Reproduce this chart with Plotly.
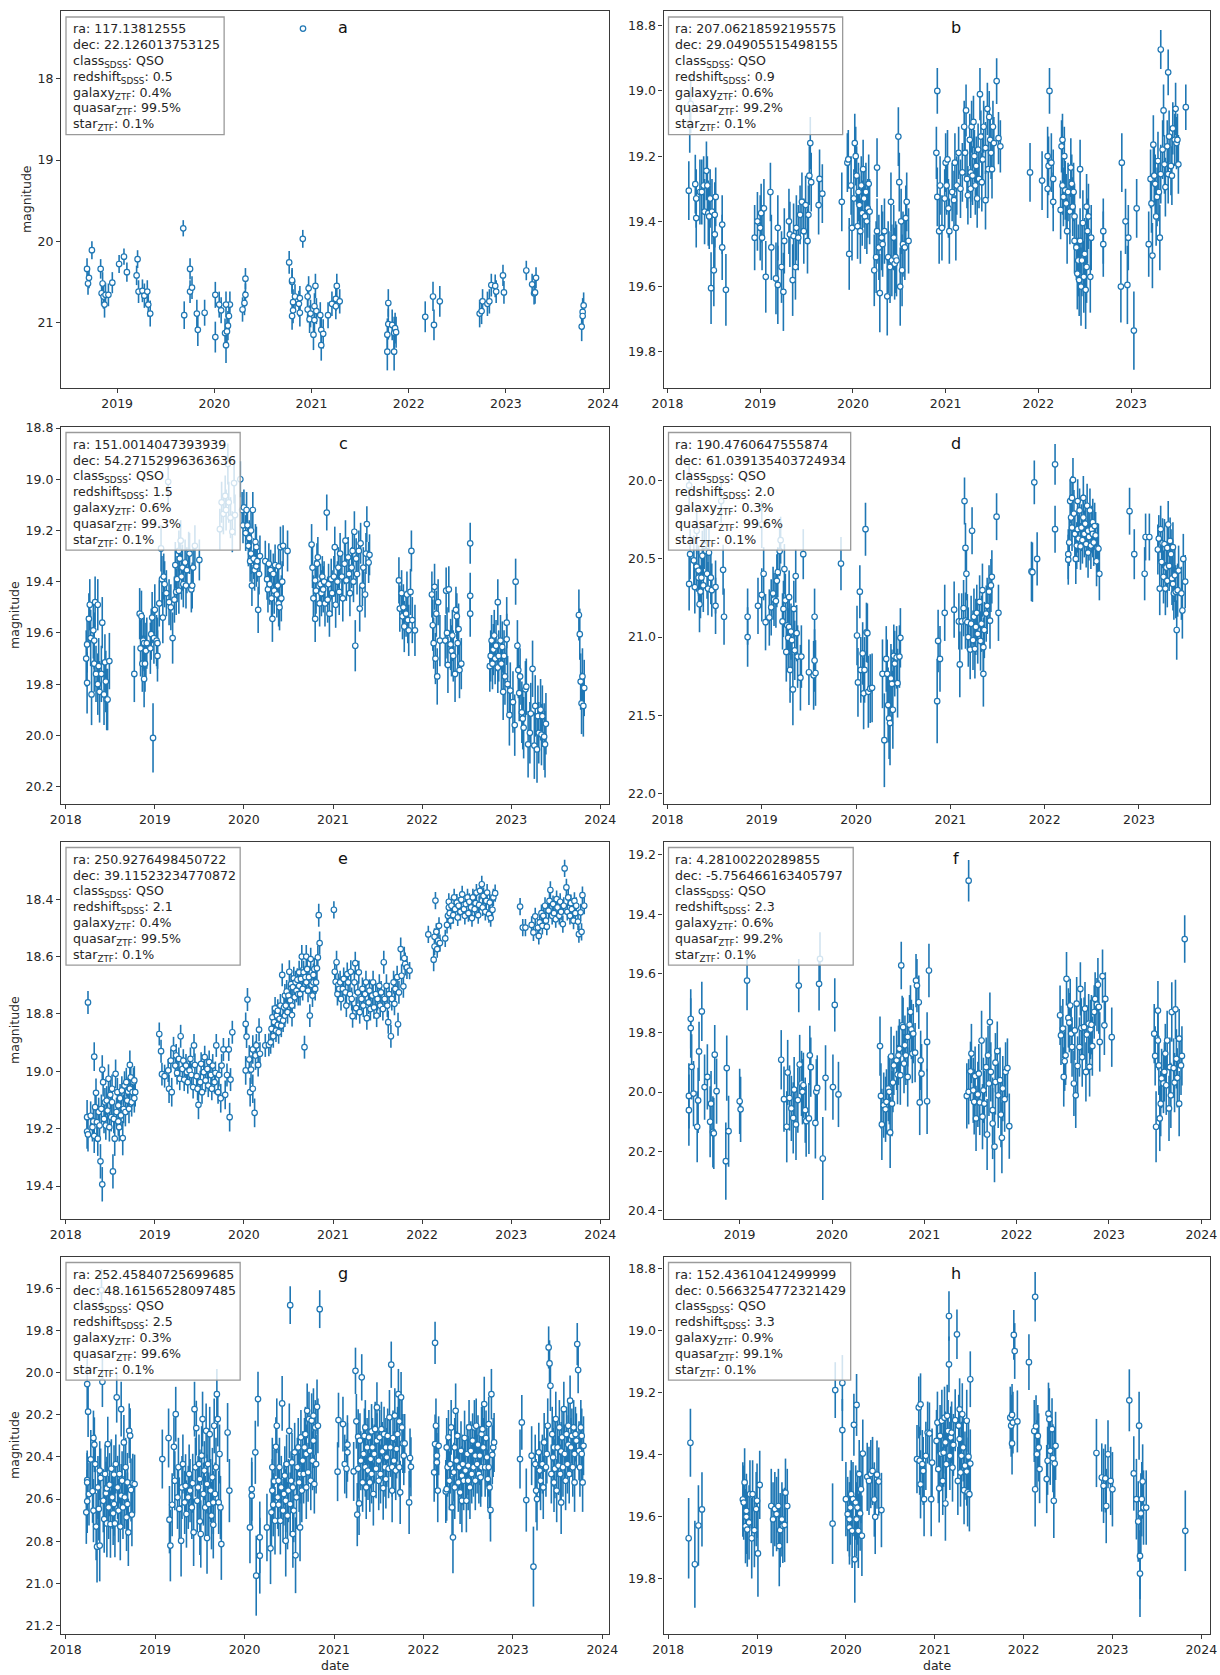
import plotly.graph_objects as go

# ZTF light curves of eight SDSS quasars: (decimal year, magnitude, 1-sigma error)
obs_a = [
    (2018.69,20.34,.13),(2018.70,20.52,.14),(2018.71,20.45,.13),(2018.74,20.11,.11),
    (2018.83,20.34,.12),(2018.84,20.64,.15),(2018.85,20.52,.14),(2018.86,20.68,.15),(2018.87,20.78,.16),(2018.88,20.66,.15),(2018.91,20.66,.14),(2018.95,20.51,.13),
    (2019.02,20.28,.11),(2019.07,20.19,.10),(2019.10,20.38,.12),(2019.20,20.42,.12),(2019.21,20.22,.11),(2019.22,20.62,.14),(2019.26,20.61,.14),(2019.28,20.67,.15),(2019.31,20.62,.14),(2019.32,20.78,.15),(2019.34,20.89,.16),
    (2019.68,19.84,.10),(2019.69,20.91,.17),(2019.75,20.34,.13),(2019.75,20.62,.14),(2019.77,20.57,.14),(2019.82,20.89,.17),(2019.83,21.09,.20),(2019.90,20.88,.16),
    (2020.01,21.18,.19),(2020.01,20.66,.16),(2020.05,20.78,.16),(2020.07,20.85,.16),(2020.11,21.13,.18),(2020.12,21.28,.22),(2020.13,21.11,.18),(2020.14,21.04,.18),(2020.15,20.92,.17),(2020.16,20.78,.16),(2020.12,20.78,.16),
    (2020.29,20.84,.15),(2020.31,20.76,.15),(2020.32,20.66,.14),(2020.32,20.46,.13),
    (2020.77,20.26,.14),(2020.80,20.50,.15),(2020.80,20.92,.17),(2020.80,20.48,.15),(2020.81,20.75,.16),(2020.81,20.85,.16),(2020.83,20.68,.15),(2020.87,20.77,.16),(2020.88,20.88,.17),(2020.88,20.70,.15),(2020.91,19.97,.11),(2020.96,20.68,.15),(2020.96,20.84,.16),(2020.97,20.58,.15),(2020.98,20.96,.17),(2020.99,20.89,.17),(2021.02,21.15,.19),(2021.03,20.80,.16),(2021.03,20.97,.17),(2021.04,20.55,.15),(2021.05,20.86,.16),(2021.09,20.91,.16),(2021.10,21.09,.18),(2021.10,21.28,.19),(2021.12,21.14,.18),(2021.17,20.91,.16),(2021.21,20.77,.15),(2021.25,20.80,.16),(2021.25,20.71,.15),(2021.26,20.55,.15),(2021.29,20.74,.15),
    (2021.78,21.15,.20),(2021.78,21.36,.23),(2021.79,20.76,.17),(2021.79,21.02,.19),(2021.83,21.03,.19),(2021.85,21.13,.20),(2021.85,21.36,.23),(2021.86,21.07,.19),(2021.87,21.12,.19),
    (2022.17,20.93,.19),(2022.25,20.68,.18),(2022.26,21.03,.19),(2022.32,20.74,.19),
    (2022.73,20.89,.17),(2022.75,20.86,.16),(2022.76,20.74,.15),(2022.81,20.77,.15),(2022.83,20.74,.15),(2022.85,20.54,.14),(2022.89,20.55,.14),(2022.90,20.62,.14),(2022.97,20.42,.13),(2022.98,20.63,.14),
    (2023.21,20.36,.12),(2023.27,20.53,.13),(2023.29,20.64,.14),(2023.30,20.63,.14),(2023.31,20.45,.13),
    (2023.78,21.05,.18),(2023.79,20.87,.17),(2023.79,20.92,.17),(2023.80,20.79,.16),
]

obs_b = [
    (2018.23,19.306,.09),(2018.24,19.10,.09),(2018.25,19.04,.09),(2018.30,19.286,.09),(2018.31,19.33,.09),(2018.31,19.39,.09),(2018.35,19.31,.10),(2018.37,19.31,.10),(2018.39,19.29,.09),(2018.40,19.37,.10),(2018.42,19.245,.09),(2018.43,19.29,.09),(2018.44,19.375,.10),(2018.45,19.385,.10),(2018.46,19.33,.09),(2018.47,19.605,.11),(2018.48,19.37,.10),(2018.50,19.55,.11),(2018.51,19.38,.10),(2018.51,19.44,.10),(2018.52,19.325,.09),(2018.59,19.41,.09),(2018.59,19.48,.10),(2018.63,19.61,.11),
    (2018.94,19.45,.10),(2018.97,19.40,.09),(2019.00,19.42,.10),(2019.01,19.375,.09),(2019.02,19.45,.10),(2019.04,19.36,.09),(2019.06,19.57,.11),(2019.11,19.31,.09),(2019.12,19.48,.10),(2019.17,19.575,.11),(2019.19,19.42,.10),(2019.19,19.595,.12),(2019.23,19.54,.11),(2019.25,19.616,.12),(2019.26,19.46,.10),(2019.31,19.40,.10),(2019.32,19.44,.10),(2019.35,19.58,.11),(2019.36,19.445,.10),(2019.38,19.54,.10),(2019.39,19.42,.10),(2019.41,19.45,.10),(2019.43,19.38,.09),(2019.45,19.34,.09),(2019.47,19.43,.10),(2019.49,19.35,.09),(2019.51,19.46,.10),(2019.52,19.38,.09),(2019.53,19.26,.09),(2019.54,19.16,.08),(2019.55,19.28,.09),(2019.63,19.35,.09),(2019.64,19.27,.09),(2019.67,19.315,.09),
    (2019.88,19.34,.09),(2019.94,19.22,.09),(2019.96,19.50,.11),(2019.95,19.21,.09),(2019.98,19.29,.09),(2019.99,19.42,.10),(2020.01,19.33,.09),(2020.02,19.16,.09),(2020.03,19.20,.09),(2020.04,19.26,.09),(2020.05,19.415,.10),(2020.06,19.31,.09),(2020.07,19.35,.09),(2020.08,19.43,.10),(2020.09,19.29,.09),(2020.10,19.375,.10),(2020.11,19.24,.09),(2020.12,19.33,.09),(2020.13,19.385,.10),(2020.14,19.31,.09),(2020.15,19.40,.10),(2020.16,19.36,.09),(2020.17,19.285,.09),(2020.18,19.37,.10),
    (2020.23,19.55,.11),(2020.25,19.51,.11),(2020.26,19.235,.09),(2020.26,19.43,.10),(2020.28,19.48,.10),(2020.29,19.62,.12),(2020.31,19.45,.10),(2020.32,19.47,.10),(2020.34,19.43,.10),(2020.37,19.63,.12),(2020.38,19.51,.11),(2020.40,19.54,.11),(2020.41,19.34,.09),(2020.42,19.52,.11),(2020.44,19.45,.10),(2020.45,19.53,.11),(2020.46,19.51,.11),(2020.47,19.52,.11),(2020.49,19.14,.09),(2020.50,19.28,.09),(2020.51,19.60,.12),(2020.52,19.40,.10),(2020.53,19.55,.11),(2020.54,19.47,.10),(2020.56,19.48,.10),(2020.57,19.39,.10),(2020.58,19.34,.09),(2020.60,19.46,.10),
    (2020.90,19.19,.08),(2020.91,19.00,.07),(2020.91,19.325,.09),(2020.93,19.43,.10),(2020.94,19.29,.09),(2020.96,19.42,.10),(2020.99,19.33,.09),(2021.00,19.22,.09),(2021.01,19.29,.09),(2021.02,19.21,.09),(2021.03,19.36,.09),(2021.04,19.43,.10),(2021.07,19.31,.09),(2021.09,19.335,.09),(2021.10,19.22,.09),(2021.11,19.42,.10),(2021.12,19.29,.09),(2021.14,19.19,.08),(2021.16,19.30,.09),(2021.18,19.25,.09),(2021.20,19.11,.08),(2021.21,19.19,.08),(2021.22,19.06,.08),(2021.23,19.27,.09),(2021.24,19.32,.09),(2021.26,19.15,.08),(2021.27,19.25,.09),(2021.27,19.30,.09),(2021.28,19.11,.08),(2021.29,19.26,.09),(2021.30,19.095,.08),(2021.31,19.20,.08),(2021.32,19.29,.09),(2021.33,19.23,.09),(2021.34,19.33,.09),(2021.35,19.18,.08),(2021.36,19.27,.09),(2021.37,19.01,.08),(2021.38,19.14,.08),(2021.39,19.28,.09),(2021.40,19.21,.08),(2021.41,19.11,.08),(2021.43,19.175,.08),(2021.43,19.335,.09),(2021.45,19.055,.08),(2021.46,19.24,.09),(2021.47,19.08,.08),(2021.48,19.15,.08),(2021.49,19.19,.08),(2021.50,19.24,.09),(2021.51,19.11,.08),(2021.52,19.16,.08),(2021.55,18.97,.07),(2021.57,19.145,.08),(2021.59,19.17,.08),
    (2021.91,19.25,.09),(2022.04,19.275,.09),(2022.10,19.20,.09),(2022.12,19.00,.07),(2022.10,19.30,.09),(2022.11,19.23,.09),(2022.14,19.22,.09),(2022.16,19.27,.09),(2022.16,19.34,.09),(2022.24,19.365,.09),(2022.25,19.17,.08),(2022.26,19.29,.09),(2022.26,19.15,.08),(2022.27,19.325,.09),(2022.28,19.20,.09),(2022.29,19.305,.09),(2022.30,19.345,.09),(2022.31,19.43,.10),(2022.32,19.31,.09),(2022.34,19.37,.10),(2022.35,19.235,.09),(2022.36,19.285,.09),(2022.37,19.355,.09),(2022.38,19.31,.09),(2022.39,19.46,.10),(2022.39,19.385,.10),(2022.41,19.48,.10),(2022.42,19.56,.11),(2022.43,19.52,.11),(2022.44,19.58,.11),(2022.45,19.24,.09),(2022.45,19.46,.10),(2022.46,19.60,.12),(2022.47,19.52,.11),(2022.48,19.405,.10),(2022.49,19.57,.11),(2022.50,19.50,.11),(2022.51,19.61,.12),(2022.52,19.54,.11),(2022.52,19.355,.10),(2022.53,19.43,.10),(2022.54,19.385,.10),(2022.56,19.57,.11),(2022.57,19.45,.10),
    (2022.70,19.43,.10),(2022.70,19.47,.10),
    (2022.89,19.60,.11),(2022.90,19.22,.09),(2022.94,19.40,.10),(2022.96,19.595,.12),(2022.97,19.45,.10),(2023.03,19.735,.12),(2023.06,19.36,.09),
    (2023.19,19.47,.10),(2023.21,19.27,.09),(2023.22,19.345,.09),(2023.23,19.505,.10),(2023.24,19.165,.09),(2023.25,19.26,.09),(2023.26,19.285,.09),(2023.27,19.385,.09),(2023.28,19.325,.09),(2023.29,19.215,.09),(2023.30,19.31,.09),(2023.31,19.45,.10),(2023.32,19.255,.09),(2023.32,18.873,.06),(2023.34,19.18,.09),(2023.35,19.06,.08),(2023.36,19.225,.09),(2023.37,19.295,.09),(2023.39,19.17,.08),(2023.40,18.943,.07),(2023.40,19.255,.09),(2023.41,19.14,.08),(2023.43,19.23,.09),(2023.44,19.26,.09),(2023.45,19.115,.08),(2023.47,19.15,.08),(2023.48,19.055,.08),(2023.49,19.16,.08),(2023.50,19.15,.08),(2023.51,19.225,.09),(2023.59,19.05,.07),
]

obs_c = [
    (2018.23,19.70,.11),(2018.24,19.795,.12),(2018.24,19.645,.11),(2018.26,19.545,.10),(2018.27,19.49,.10),(2018.28,19.62,.11),(2018.29,19.84,.12),(2018.31,19.59,.11),(2018.32,19.72,.11),(2018.32,19.63,.11),(2018.33,19.48,.10),(2018.34,19.76,.11),(2018.36,19.80,.12),(2018.36,19.49,.10),(2018.37,19.73,.11),(2018.38,19.83,.12),(2018.40,19.76,.11),(2018.41,19.56,.10),(2018.43,19.84,.12),(2018.44,19.715,.11),(2018.45,19.79,.12),(2018.46,19.86,.12),(2018.47,19.86,.12),(2018.49,19.71,.11),
    (2018.77,19.76,.11),(2018.83,19.525,.10),(2018.84,19.66,.11),(2018.85,19.535,.10),(2018.86,19.72,.11),(2018.87,19.63,.11),(2018.88,19.78,.11),(2018.88,19.64,.11),(2018.89,19.72,.11),(2018.90,19.67,.11),(2018.91,19.64,.10),(2018.95,19.66,.10),(2018.96,19.605,.10),(2018.97,19.54,.10),(2018.98,20.01,.135),(2018.99,19.62,.10),(2019.00,19.51,.10),(2019.02,19.63,.10),(2019.03,19.69,.10),(2019.03,19.64,.10),(2019.05,19.485,.09),(2019.07,19.27,.09),(2019.08,19.39,.09),(2019.09,19.54,.10),(2019.10,19.38,.09),(2019.11,19.41,.09),(2019.13,19.445,.09),(2019.15,19.01,.09),(2019.16,19.48,.09),(2019.18,19.50,.09),(2019.20,19.62,.10),(2019.22,19.47,.09),(2019.23,19.335,.09),(2019.24,19.44,.09),(2019.25,19.39,.09),(2019.27,19.28,.08),(2019.27,19.435,.09),(2019.28,19.31,.08),(2019.29,19.24,.08),(2019.30,19.38,.09),(2019.31,19.345,.09),(2019.32,19.41,.09),(2019.34,19.325,.09),(2019.35,19.415,.09),(2019.36,19.355,.09),(2019.38,19.285,.08),(2019.39,19.29,.08),(2019.41,19.43,.09),(2019.42,19.415,.09),(2019.43,19.345,.09),(2019.45,19.26,.08),(2019.50,19.315,.08),
    (2019.73,19.195,.08),(2019.75,19.09,.08),(2019.77,19.135,.08),(2019.79,19.065,.08),(2019.80,19.12,.08),(2019.82,18.94,.08),(2019.83,19.09,.08),(2019.85,19.15,.08),(2019.87,19.205,.08),(2019.89,19.015,.08),(2019.90,19.14,.08),(2019.96,19.00,.07),(2019.98,19.12,.07),(2019.99,19.18,.07),(2020.00,19.11,.07),(2020.02,19.21,.07),(2020.03,19.12,.07),(2020.04,19.18,.07),(2020.05,19.26,.08),(2020.06,19.23,.07),(2020.07,19.32,.08),(2020.08,19.29,.08),(2020.08,19.20,.07),(2020.09,19.415,.08),(2020.10,19.12,.07),(2020.11,19.31,.08),(2020.12,19.355,.08),(2020.13,19.245,.07),(2020.14,19.34,.08),(2020.14,19.265,.08),(2020.15,19.32,.08),(2020.16,19.51,.09),(2020.17,19.37,.08),(2020.18,19.30,.08),
    (2020.24,19.32,.08),(2020.26,19.39,.08),(2020.27,19.43,.09),(2020.28,19.33,.08),(2020.29,19.41,.08),(2020.30,19.355,.08),(2020.31,19.465,.09),(2020.32,19.545,.09),(2020.33,19.37,.08),(2020.34,19.435,.09),(2020.35,19.335,.08),(2020.37,19.45,.09),(2020.38,19.415,.08),(2020.39,19.485,.09),(2020.39,19.34,.08),(2020.40,19.50,.09),(2020.41,19.265,.08),(2020.42,19.465,.09),(2020.43,19.40,.08),(2020.44,19.26,.08),(2020.49,19.28,.08),
    (2020.76,19.255,.08),(2020.77,19.345,.08),(2020.78,19.465,.09),(2020.80,19.395,.08),(2020.80,19.545,.09),(2020.81,19.435,.09),(2020.82,19.33,.08),(2020.83,19.305,.08),(2020.85,19.485,.09),(2020.86,19.41,.08),(2020.87,19.445,.09),(2020.88,19.38,.08),(2020.89,19.43,.09),(2020.90,19.40,.08),(2020.91,19.485,.09),(2020.93,19.13,.07),(2020.94,19.47,.09),(2020.95,19.41,.08),(2020.96,19.525,.09),(2020.98,19.39,.08),(2020.99,19.445,.09),(2021.01,19.38,.08),(2021.02,19.265,.08),(2021.03,19.49,.09),(2021.05,19.40,.08),(2021.06,19.345,.08),(2021.07,19.44,.09),(2021.08,19.29,.08),(2021.10,19.38,.08),(2021.11,19.465,.09),(2021.13,19.33,.08),(2021.14,19.24,.08),(2021.15,19.395,.08),(2021.17,19.305,.08),(2021.18,19.37,.08),(2021.19,19.445,.09),(2021.21,19.345,.08),(2021.22,19.28,.08),(2021.23,19.40,.08),(2021.24,19.205,.08),(2021.25,19.65,.10),(2021.26,19.31,.08),(2021.27,19.37,.08),(2021.29,19.28,.08),(2021.30,19.505,.09),(2021.31,19.25,.08),(2021.33,19.415,.08),(2021.34,19.345,.08),(2021.36,19.45,.09),(2021.37,19.29,.08),(2021.38,19.175,.07),(2021.40,19.325,.08),(2021.41,19.295,.08),
    (2021.74,19.395,.09),(2021.75,19.505,.09),(2021.77,19.445,.09),(2021.78,19.535,.09),(2021.79,19.50,.09),(2021.80,19.575,.10),(2021.82,19.525,.09),(2021.83,19.45,.09),(2021.84,19.55,.09),(2021.85,19.59,.10),(2021.87,19.44,.09),(2021.88,19.28,.08),(2021.89,19.55,.09),(2021.92,19.59,.10),
    (2022.11,19.45,.09),(2022.12,19.57,.10),(2022.13,19.64,.10),(2022.14,19.42,.09),(2022.15,19.70,.10),(2022.16,19.525,.09),(2022.17,19.77,.11),(2022.18,19.48,.09),(2022.20,19.63,.10),(2022.26,19.63,.10),(2022.27,19.435,.09),(2022.28,19.60,.10),(2022.29,19.725,.11),(2022.30,19.43,.09),(2022.32,19.645,.10),(2022.33,19.67,.10),(2022.34,19.61,.10),(2022.35,19.69,.10),(2022.37,19.76,.11),(2022.38,19.51,.09),(2022.39,19.535,.09),(2022.40,19.64,.10),(2022.41,19.585,.10),(2022.42,19.745,.11),(2022.44,19.72,.10),(2022.54,19.25,.08),(2022.54,19.455,.09),(2022.54,19.525,.09),
    (2022.76,19.73,.10),(2022.77,19.69,.10),(2022.78,19.63,.10),(2022.79,19.72,.10),(2022.80,19.665,.10),(2022.81,19.61,.10),(2022.82,19.70,.10),(2022.83,19.65,.10),(2022.85,19.735,.10),(2022.85,19.48,.09),(2022.86,19.69,.10),(2022.88,19.63,.10),(2022.89,19.72,.10),(2022.90,19.655,.10),(2022.91,19.83,.11),(2022.92,19.69,.10),(2022.93,19.77,.11),(2022.95,19.625,.10),(2022.95,19.56,.10),(2022.96,19.80,.11),(2022.98,19.92,.12),(2022.99,19.825,.11),(2023.02,19.87,.12),(2023.04,19.96,.12),(2023.05,19.40,.09),(2023.07,19.65,.10),(2023.08,19.745,.11),(2023.09,19.835,.11),(2023.10,19.77,.11),(2023.12,19.91,.12),(2023.13,19.935,.12),(2023.14,19.97,.12),(2023.16,19.82,.11),(2023.17,19.81,.11),(2023.19,20.035,.13),(2023.21,19.99,.12),(2023.22,19.915,.12),(2023.24,19.74,.11),(2023.26,20.04,.13),(2023.27,19.885,.12),(2023.29,20.055,.13),(2023.30,19.925,.12),(2023.31,19.99,.12),(2023.33,19.90,.12),(2023.34,19.997,.12),(2023.35,19.925,.12),(2023.37,20.005,.13),(2023.38,20.035,.13),(2023.39,19.955,.12),
    (2023.76,19.53,.10),(2023.77,19.605,.10),(2023.78,19.79,.11),(2023.79,19.875,.12),(2023.80,19.77,.11),(2023.81,19.885,.12),(2023.82,19.815,.11),
]

obs_d = [
    (2018.23,20.66,.17),(2018.24,20.47,.16),(2018.23,20.03,.14),(2018.28,20.51,.16),(2018.29,20.68,.17),(2018.31,20.55,.16),(2018.31,20.32,.15),(2018.33,20.62,.17),(2018.33,20.575,.16),(2018.34,20.79,.18),(2018.35,20.71,.17),(2018.36,20.62,.16),(2018.37,20.48,.16),(2018.38,20.67,.17),(2018.39,20.415,.15),(2018.41,20.45,.16),(2018.42,20.595,.16),(2018.43,20.69,.17),(2018.44,20.46,.16),(2018.46,20.62,.17),(2018.47,20.70,.17),(2018.51,20.80,.18),(2018.51,20.68,.17),(2018.57,20.13,.14),(2018.59,20.57,.16),(2018.60,20.87,.18),
    (2018.85,20.87,.18),(2018.85,21.00,.19),(2018.96,20.80,.18),(2019.00,20.73,.17),(2019.02,20.595,.17),(2019.04,20.905,.18),(2019.00,20.28,.15),(2019.08,20.875,.18),(2019.10,20.81,.18),(2019.12,20.72,.17),(2019.13,20.76,.17),(2019.15,20.77,.17),(2019.16,20.64,.17),(2019.17,20.585,.16),(2019.19,20.45,.16),(2019.20,20.38,.15),(2019.22,20.90,.18),(2019.23,20.82,.18),(2019.24,20.565,.16),(2019.25,20.765,.17),(2019.26,21.095,.19),(2019.27,20.925,.18),(2019.28,21.005,.19),(2019.29,20.745,.17),(2019.29,20.935,.18),(2019.30,21.21,.21),(2019.31,20.965,.18),(2019.32,21.02,.19),(2019.33,21.335,.23),(2019.34,20.82,.18),(2019.35,21.085,.19),(2019.36,20.61,.17),(2019.37,20.975,.18),(2019.38,21.125,.20),(2019.41,21.26,.21),(2019.42,21.125,.20),(2019.44,20.47,.16),(2019.50,21.225,.21),(2019.55,21.245,.22),(2019.56,21.15,.20),(2019.56,20.87,.18),(2019.57,21.23,.21),
    (2019.84,20.53,.17),(2020.01,20.99,.19),(2020.02,21.29,.22),(2020.04,20.71,.17),(2020.05,21.21,.21),(2020.07,21.105,.20),(2020.08,21.36,.23),(2020.09,21.21,.21),(2020.10,20.31,.17),(2020.11,20.97,.19),(2020.12,20.975,.19),(2020.13,21.35,.23),(2020.15,21.33,.22),(2020.17,21.325,.22),
    (2020.28,21.235,.22),(2020.30,21.66,.30),(2020.32,21.14,.21),(2020.33,21.235,.22),(2020.34,21.435,.24),(2020.35,21.52,.26),(2020.36,21.55,.27),(2020.37,21.265,.22),(2020.38,21.30,.22),(2020.39,21.465,.25),(2020.40,21.12,.20),(2020.41,21.17,.21),(2020.43,21.13,.20),(2020.44,21.295,.22),(2020.46,21.125,.20),(2020.47,21.005,.19),
    (2020.86,21.41,.27),(2020.87,21.025,.20),(2020.89,21.14,.21),(2020.94,20.845,.18),(2021.04,20.825,.18),(2021.09,20.90,.18),(2021.10,21.175,.21),(2021.12,20.90,.18),(2021.14,20.815,.18),(2021.15,20.13,.15),(2021.16,20.895,.18),(2021.16,20.43,.16),(2021.17,20.595,.17),(2021.18,20.905,.18),(2021.19,21.00,.19),(2021.21,21.08,.19),(2021.22,20.915,.18),(2021.23,20.32,.15),(2021.24,21.02,.19),(2021.25,20.87,.18),(2021.26,21.075,.19),(2021.27,20.935,.18),(2021.28,20.845,.18),(2021.29,20.98,.19),(2021.31,20.775,.17),(2021.32,21.025,.19),(2021.33,20.915,.18),(2021.34,20.70,.17),(2021.35,21.235,.21),(2021.35,21.065,.19),(2021.36,20.955,.18),(2021.38,20.85,.18),(2021.39,20.80,.18),(2021.41,20.71,.17),(2021.42,20.895,.18),(2021.43,20.67,.17),(2021.44,20.615,.17),(2021.49,20.23,.15),(2021.51,20.845,.18),
    (2021.86,20.58,.19),(2021.87,20.585,.19),(2021.89,20.01,.14),(2021.92,20.50,.17),(2022.11,19.895,.13),(2022.11,20.31,.15),(2022.25,20.47,.16),(2022.25,20.505,.16),(2022.26,20.395,.15),(2022.27,20.13,.14),(2022.28,20.235,.15),(2022.29,20.11,.14),(2022.29,20.30,.15),(2022.30,19.995,.14),(2022.31,20.21,.15),(2022.32,20.34,.15),(2022.33,20.50,.16),(2022.34,20.415,.15),(2022.35,20.13,.14),(2022.35,20.31,.15),(2022.36,20.37,.15),(2022.37,20.19,.14),(2022.38,20.42,.15),(2022.39,20.30,.15),(2022.40,20.38,.15),(2022.41,20.235,.15),(2022.41,20.11,.14),(2022.42,20.34,.15),(2022.43,20.275,.15),(2022.44,20.405,.15),(2022.45,20.16,.14),(2022.46,20.32,.15),(2022.46,20.46,.16),(2022.47,20.36,.15),(2022.48,20.19,.14),(2022.49,20.415,.15),(2022.50,20.31,.15),(2022.51,20.265,.15),(2022.51,20.34,.15),(2022.52,20.395,.15),(2022.53,20.29,.15),(2022.54,20.35,.15),(2022.55,20.515,.16),(2022.56,20.43,.16),(2022.57,20.435,.16),(2022.58,20.595,.17),
    (2022.90,20.195,.15),(2022.95,20.47,.16),(2023.06,20.595,.17),(2023.07,20.36,.15),(2023.11,20.36,.15),(2023.20,20.44,.16),(2023.21,20.37,.15),(2023.22,20.69,.17),(2023.23,20.31,.15),(2023.24,20.52,.16),(2023.25,20.40,.16),(2023.26,20.615,.17),(2023.27,20.405,.16),(2023.28,20.69,.17),(2023.29,20.555,.16),(2023.30,20.64,.17),(2023.30,20.43,.16),(2023.31,20.28,.15),(2023.32,20.545,.16),(2023.33,20.385,.15),(2023.34,20.47,.16),(2023.35,20.625,.17),(2023.36,20.425,.16),(2023.36,20.66,.17),(2023.37,20.72,.17),(2023.38,20.605,.17),(2023.39,20.71,.17),(2023.40,20.955,.19),(2023.41,20.70,.17),(2023.42,20.575,.16),(2023.45,20.72,.17),(2023.46,20.83,.18),(2023.47,20.50,.16),(2023.49,20.645,.17),
]

obs_e = [
    (2018.25,18.76,.04),(2018.24,19.16,.06),(2018.24,19.21,.06),(2018.25,19.22,.06),(2018.28,19.155,.05),(2018.30,19.195,.05),(2018.31,19.175,.05),(2018.32,19.225,.06),(2018.32,18.949,.05),(2018.33,19.125,.05),(2018.34,19.075,.05),(2018.35,19.177,.05),(2018.36,19.235,.06),(2018.37,19.142,.05),(2018.38,19.189,.05),(2018.39,19.314,.06),(2018.40,19.131,.05),(2018.41,19.394,.06),(2018.41,18.994,.05),(2018.42,19.038,.05),(2018.43,19.166,.05),(2018.44,19.108,.05),(2018.45,19.189,.05),(2018.46,19.102,.05),(2018.47,19.137,.05),(2018.48,19.026,.05),(2018.49,19.195,.05),(2018.50,19.082,.05),(2018.51,19.16,.05),(2018.52,19.108,.05),(2018.52,19.061,.05),(2018.53,19.349,.06),(2018.54,19.166,.05),(2018.55,19.235,.06),(2018.56,19.009,.05),(2018.57,19.142,.05),(2018.58,19.073,.05),(2018.59,19.175,.05),(2018.59,19.119,.05),(2018.60,19.195,.05),(2018.61,19.094,.05),(2018.62,19.154,.05),(2018.63,19.067,.05),(2018.64,19.233,.06),(2018.65,19.131,.05),(2018.66,19.05,.05),(2018.67,19.142,.05),(2018.68,19.038,.05),(2018.69,19.102,.05),(2018.70,19.071,.05),(2018.71,19.131,.05),(2018.72,19.061,.05),(2018.72,18.978,.05),(2018.73,19.021,.05),(2018.74,19.108,.05),(2018.75,19.073,.05),(2018.76,19.038,.05),(2018.77,19.094,.05),(2018.77,19.032,.05),(2018.78,19.073,.05),
    (2019.05,18.87,.04),(2019.07,18.93,.04),(2019.08,19.01,.04),(2019.11,19.017,.04),(2019.15,18.997,.04),(2019.16,19.061,.05),(2019.18,18.963,.04),(2019.19,19.073,.05),(2019.21,18.92,.04),(2019.23,18.98,.04),(2019.24,18.945,.04),(2019.25,19.006,.04),(2019.27,18.957,.04),(2019.28,19.026,.04),(2019.29,18.878,.04),(2019.31,18.992,.04),(2019.32,18.963,.04),(2019.33,19.029,.04),(2019.35,18.98,.04),(2019.36,19.003,.04),(2019.37,19.038,.04),(2019.39,18.997,.04),(2019.40,18.957,.04),(2019.41,19.013,.04),(2019.43,19.055,.04),(2019.44,18.91,.04),(2019.45,18.978,.04),(2019.47,19.017,.04),(2019.48,19.061,.04),(2019.49,19.117,.05),(2019.51,19.038,.04),(2019.52,18.974,.04),(2019.53,19.073,.04),(2019.55,19.003,.04),(2019.56,18.951,.04),(2019.57,19.032,.04),(2019.59,18.992,.04),(2019.60,19.05,.04),(2019.61,18.968,.04),(2019.63,19.013,.04),(2019.64,19.061,.04),(2019.65,18.98,.04),(2019.67,19.038,.04),(2019.68,19.006,.04),(2019.69,18.91,.04),(2019.71,19.073,.04),(2019.72,19.013,.04),(2019.74,19.094,.05),(2019.75,18.98,.04),(2019.77,18.924,.04),(2019.79,19.082,.05),(2019.81,19.013,.04),(2019.83,18.924,.04),(2019.84,19.16,.05),(2019.85,19.029,.04),(2019.87,18.864,.04),
    (2020.02,18.997,.05),(2020.02,18.835,.04),(2020.03,18.879,.04),(2020.04,18.75,.04),(2020.06,18.959,.05),(2020.07,19.073,.05),(2020.08,18.994,.05),(2020.10,19.061,.05),(2020.10,18.924,.05),(2020.12,19.145,.05),(2020.13,18.945,.05),(2020.14,18.91,.04),(2020.16,18.978,.04),(2020.17,18.855,.04),(2020.18,18.939,.04),(2020.24,18.91,.04),(2020.28,18.908,.04),(2020.30,18.899,.04),(2020.31,18.852,.04),(2020.32,18.812,.04),(2020.33,18.878,.04),(2020.34,18.829,.04),(2020.35,18.781,.04),(2020.36,18.858,.04),(2020.37,18.806,.04),(2020.38,18.838,.04),(2020.38,18.789,.04),(2020.39,18.864,.04),(2020.40,18.817,.04),(2020.41,18.771,.04),(2020.42,18.841,.04),(2020.43,18.664,.04),(2020.44,18.823,.04),(2020.45,18.777,.04),(2020.46,18.806,.04),(2020.46,18.736,.04),(2020.47,18.771,.04),(2020.48,18.722,.04),(2020.49,18.794,.04),(2020.50,18.736,.04),(2020.51,18.653,.04),(2020.52,18.753,.04),(2020.53,18.696,.04),(2020.54,18.771,.04),(2020.54,18.804,.04),(2020.55,18.707,.04),(2020.56,18.676,.04),(2020.57,18.742,.04),(2020.58,18.69,.04),(2020.59,18.719,.04),(2020.60,18.681,.04),(2020.61,18.731,.04),(2020.62,18.655,.04),(2020.62,18.702,.04),(2020.63,18.731,.04),(2020.64,18.678,.04),(2020.65,18.60,.04),(2020.66,18.713,.04),(2020.67,18.655,.04),(2020.68,18.916,.04),(2020.69,18.672,.04),(2020.70,18.60,.04),(2020.70,18.69,.04),(2020.71,18.644,.04),(2020.72,18.719,.04),(2020.73,18.672,.04),(2020.74,18.806,.04),(2020.75,18.609,.04),(2020.76,18.699,.04),(2020.77,18.736,.04),(2020.78,18.664,.04),(2020.78,18.69,.04),(2020.79,18.644,.04),(2020.80,18.713,.04),(2020.81,18.69,.04),(2020.82,18.641,.04),(2020.83,18.603,.04),(2020.84,18.456,.04),(2020.85,18.553,.04),
    (2021.01,18.437,.03),(2021.02,18.653,.04),(2021.03,18.688,.04),(2021.04,18.62,.04),(2021.05,18.731,.04),(2021.06,18.699,.04),(2021.07,18.713,.04),(2021.08,18.69,.04),(2021.09,18.748,.04),(2021.11,18.713,.04),(2021.12,18.678,.04),(2021.14,18.725,.04),(2021.15,18.771,.04),(2021.16,18.661,.04),(2021.17,18.69,.04),(2021.19,18.731,.04),(2021.20,18.653,.04),(2021.21,18.748,.04),(2021.22,18.808,.04),(2021.24,18.69,.04),(2021.25,18.623,.04),(2021.26,18.78,.04),(2021.28,18.725,.04),(2021.29,18.655,.04),(2021.30,18.794,.04),(2021.32,18.748,.04),(2021.33,18.713,.04),(2021.34,18.771,.04),(2021.36,18.731,.04),(2021.37,18.69,.04),(2021.38,18.815,.04),(2021.40,18.76,.04),(2021.41,18.719,.04),(2021.42,18.783,.04),(2021.44,18.736,.04),(2021.45,18.69,.04),(2021.46,18.777,.04),(2021.48,18.731,.04),(2021.49,18.806,.04),(2021.50,18.748,.04),(2021.52,18.702,.04),(2021.53,18.771,.04),(2021.54,18.725,.04),(2021.56,18.783,.04),(2021.57,18.62,.04),(2021.58,18.748,.04),(2021.60,18.702,.04),(2021.61,18.771,.04),(2021.62,18.829,.04),(2021.63,18.731,.04),(2021.65,18.878,.04),(2021.66,18.748,.04),(2021.68,18.69,.04),(2021.69,18.765,.04),(2021.70,18.713,.04),(2021.72,18.672,.04),(2021.73,18.836,.04),(2021.74,18.725,.04),(2021.76,18.574,.04),(2021.77,18.667,.04),(2021.79,18.704,.04),(2021.80,18.606,.04),(2021.81,18.626,.04),(2021.83,18.638,.04),(2021.86,18.649,.03),
    (2022.07,18.523,.03),(2022.13,18.611,.04),(2022.14,18.565,.03),(2022.14,18.531,.03),(2022.15,18.405,.03),(2022.16,18.514,.03),(2022.17,18.574,.03),(2022.18,18.545,.03),(2022.19,18.493,.03),(2022.20,18.553,.03),(2022.26,18.537,.03),(2022.28,18.49,.03),(2022.29,18.458,.03),(2022.30,18.429,.03),(2022.30,18.409,.03),(2022.31,18.449,.03),(2022.32,18.475,.03),(2022.33,18.423,.03),(2022.35,18.456,.03),(2022.36,18.394,.03),(2022.37,18.435,.03),(2022.39,18.412,.03),(2022.40,18.464,.03),(2022.41,18.423,.03),(2022.43,18.444,.03),(2022.44,18.402,.03),(2022.45,18.383,.03),(2022.47,18.435,.03),(2022.48,18.458,.03),(2022.49,18.417,.03),(2022.51,18.394,.03),(2022.52,18.449,.03),(2022.53,18.409,.03),(2022.55,18.429,.03),(2022.56,18.466,.03),(2022.57,18.394,.03),(2022.59,18.435,.03),(2022.60,18.414,.03),(2022.61,18.377,.03),(2022.63,18.456,.03),(2022.64,18.42,.03),(2022.65,18.371,.03),(2022.67,18.348,.03),(2022.68,18.429,.03),(2022.69,18.389,.03),(2022.71,18.444,.03),(2022.72,18.406,.03),(2022.73,18.377,.03),(2022.75,18.452,.03),(2022.76,18.412,.03),(2022.77,18.466,.03),(2022.79,18.437,.03),(2022.80,18.394,.03),(2022.82,18.379,.03),
    (2023.10,18.426,.03),(2023.13,18.499,.03),(2023.16,18.499,.03),(2023.23,18.49,.03),(2023.25,18.516,.03),(2023.27,18.46,.03),(2023.30,18.499,.03),(2023.31,18.528,.03),(2023.32,18.481,.03),(2023.34,18.449,.03),(2023.35,18.493,.03),(2023.36,18.458,.03),(2023.38,18.423,.03),(2023.39,18.475,.03),(2023.40,18.496,.03),(2023.42,18.44,.03),(2023.43,18.406,.03),(2023.44,18.368,.03),(2023.46,18.458,.03),(2023.47,18.417,.03),(2023.48,18.449,.03),(2023.50,18.47,.03),(2023.51,18.40,.03),(2023.52,18.429,.03),(2023.54,18.458,.03),(2023.55,18.409,.03),(2023.56,18.444,.03),(2023.58,18.487,.03),(2023.59,18.423,.03),(2023.60,18.293,.03),(2023.62,18.359,.03),(2023.63,18.444,.03),(2023.64,18.394,.03),(2023.66,18.458,.03),(2023.67,18.414,.03),(2023.68,18.435,.03),(2023.70,18.475,.03),(2023.71,18.406,.03),(2023.72,18.449,.03),(2023.73,18.423,.03),(2023.75,18.478,.03),(2023.76,18.522,.03),(2023.78,18.446,.03),(2023.79,18.514,.03),(2023.80,18.386,.03),(2023.82,18.423,.03),
]

obs_f = [
    (2018.45,20.061,.12),(2018.45,20.013,.11),(2018.47,19.784,.10),(2018.47,19.753,.10),(2018.48,19.915,.11),(2018.50,20.005,.11),(2018.54,20.117,.12),(2018.55,20.028,.11),(2018.56,19.863,.10),(2018.59,19.728,.10),(2018.62,19.983,.11),(2018.65,19.949,.11),(2018.68,20.10,.12),(2018.69,20.039,.11),(2018.71,20.134,.12),(2018.72,20.139,.12),(2018.73,19.874,.10),(2018.75,19.997,.11),(2018.85,20.233,.13),(2018.86,19.919,.11),(2018.88,20.132,.12),(2019.00,20.031,.11),(2019.01,20.058,.11),(2019.08,19.624,.10),
    (2019.45,19.891,.10),(2019.48,20.024,.11),(2019.51,20.117,.12),(2019.52,19.934,.11),(2019.54,20.02,.11),(2019.56,20.055,.11),(2019.58,20.087,.12),(2019.59,19.992,.11),(2019.61,20.109,.12),(2019.63,20.027,.11),(2019.64,19.641,.09),(2019.65,19.907,.10),(2019.67,19.971,.11),(2019.68,19.999,.11),(2019.69,19.977,.11),(2019.71,20.061,.11),(2019.72,20.098,.12),(2019.75,20.089,.12),(2019.76,19.876,.10),(2019.77,19.916,.10),(2019.82,20.104,.12),(2019.83,19.999,.11),(2019.84,19.986,.11),(2019.86,19.635,.09),(2019.87,19.551,.09),(2019.90,20.224,.14),(2019.93,19.952,.11),(2020.01,19.983,.11),(2020.03,19.706,.09),(2020.07,20.008,.11),
    (2020.52,19.845,.10),(2020.53,20.013,.11),(2020.54,20.109,.12),(2020.56,20.044,.11),(2020.58,20.058,.11),(2020.59,20.033,.11),(2020.61,19.988,.11),(2020.62,19.999,.11),(2020.63,20.136,.12),(2020.64,19.88,.10),(2020.65,20.039,.11),(2020.66,19.968,.10),(2020.67,19.91,.10),(2020.70,19.893,.10),(2020.71,19.941,.10),(2020.72,19.876,.10),(2020.73,19.854,.10),(2020.74,19.943,.10),(2020.75,19.573,.08),(2020.76,19.775,.10),(2020.77,19.781,.10),(2020.78,19.904,.10),(2020.79,19.842,.10),(2020.80,19.876,.10),(2020.82,19.814,.10),(2020.82,19.949,.10),(2020.84,19.773,.10),(2020.85,19.73,.09),(2020.86,19.789,.10),(2020.87,19.87,.10),(2020.88,19.803,.10),(2020.90,19.867,.10),(2020.91,19.624,.09),(2020.92,19.641,.09),(2020.94,19.697,.09),(2020.95,20.035,.11),(2020.96,19.893,.10),(2020.97,19.938,.10),(2021.03,19.831,.10),(2021.03,20.031,.11),(2021.05,19.59,.09),
    (2021.48,19.287,.07),(2021.46,20.013,.11),(2021.48,19.999,.11),(2021.50,19.93,.10),(2021.51,19.87,.10),(2021.53,19.994,.11),(2021.54,20.033,.11),(2021.55,19.946,.10),(2021.56,20.089,.11),(2021.58,20.008,.11),(2021.59,19.938,.10),(2021.60,20.035,.11),(2021.62,19.826,.10),(2021.63,20.083,.11),(2021.64,19.994,.11),(2021.65,20.039,.11),(2021.67,19.916,.10),(2021.68,20.143,.12),(2021.69,19.876,.10),(2021.70,19.971,.11),(2021.71,19.764,.10),(2021.72,19.932,.10),(2021.74,20.106,.12),(2021.74,20.061,.11),(2021.76,20.184,.12),(2021.77,19.901,.10),(2021.77,19.966,.11),(2021.79,19.862,.10),(2021.80,20.011,.11),(2021.82,19.96,.11),(2021.83,20.076,.11),(2021.84,20.154,.12),(2021.85,19.988,.11),(2021.87,20.024,.11),(2021.88,19.932,.10),(2021.90,19.919,.10),(2021.92,20.115,.11),
    (2022.47,19.741,.10),(2022.48,19.809,.10),(2022.50,19.786,.10),(2022.51,19.949,.10),(2022.52,19.896,.10),(2022.53,19.876,.10),(2022.54,19.618,.09),(2022.56,19.75,.10),(2022.57,19.766,.10),(2022.58,19.708,.09),(2022.59,19.803,.10),(2022.60,19.848,.10),(2022.62,19.971,.11),(2022.63,19.792,.10),(2022.64,20.011,.11),(2022.65,19.702,.09),(2022.66,19.912,.10),(2022.68,19.848,.10),(2022.69,19.652,.09),(2022.70,19.784,.10),(2022.71,19.882,.10),(2022.73,19.781,.10),(2022.74,19.719,.09),(2022.75,19.932,.10),(2022.76,19.806,.10),(2022.78,19.769,.10),(2022.79,19.915,.10),(2022.80,19.789,.10),(2022.81,19.773,.10),(2022.82,19.845,.10),(2022.84,19.73,.09),(2022.85,19.686,.09),(2022.87,19.705,.09),(2022.88,19.638,.09),(2022.89,19.713,.09),(2022.90,19.831,.10),(2022.93,19.609,.09),(2022.95,19.775,.10),(2022.96,19.686,.09),(2023.03,19.815,.10),
    (2023.49,19.803,.10),(2023.50,19.878,.10),(2023.51,20.117,.12),(2023.53,19.826,.10),(2023.53,19.725,.10),(2023.54,19.91,.10),(2023.55,20.089,.11),(2023.56,20.039,.11),(2023.57,19.954,.10),(2023.59,19.971,.10),(2023.60,19.932,.10),(2023.61,19.87,.10),(2023.62,19.977,.10),(2023.63,19.826,.10),(2023.65,20.055,.11),(2023.66,19.916,.10),(2023.67,20.011,.11),(2023.68,19.73,.10),(2023.70,19.919,.10),(2023.71,19.968,.10),(2023.72,19.721,.10),(2023.73,19.888,.10),(2023.74,19.952,.10),(2023.76,20.039,.11),(2023.76,19.82,.10),(2023.78,19.91,.10),(2023.79,19.878,.10),(2023.82,19.484,.08),
]

obs_g = [
    (2018.24,20.054,.12),(2018.24,20.51,.14),(2018.24,20.521,.14),(2018.25,20.185,.12),(2018.24,20.611,.15),(2018.23,20.663,.15),(2018.26,20.576,.15),(2018.28,20.412,.14),(2018.30,20.563,.15),(2018.31,20.655,.15),(2018.31,20.31,.13),(2018.32,20.342,.13),(2018.33,20.434,.14),(2018.34,20.731,.16),(2018.35,20.826,.17),(2018.36,20.545,.15),(2018.37,20.647,.15),(2018.38,20.465,.14),(2018.38,20.821,.17),(2018.39,20.50,.14),(2018.40,19.608,.10),(2018.41,20.043,.12),(2018.42,20.608,.15),(2018.43,20.695,.16),(2018.44,20.481,.14),(2018.45,20.573,.15),(2018.46,20.716,.16),(2018.46,20.549,.15),(2018.47,20.339,.13),(2018.48,20.64,.15),(2018.49,20.532,.15),(2018.50,20.719,.16),(2018.51,20.456,.14),(2018.52,20.592,.15),(2018.53,20.668,.15),(2018.54,20.484,.14),(2018.54,20.624,.15),(2018.55,20.716,.16),(2018.56,20.434,.14),(2018.57,20.117,.12),(2018.58,20.545,.15),(2018.59,20.655,.15),(2018.60,20.481,.14),(2018.61,20.731,.16),(2018.62,20.584,.15),(2018.62,20.173,.13),(2018.63,20.513,.14),(2018.64,20.64,.15),(2018.65,20.331,.13),(2018.66,20.592,.15),(2018.67,20.449,.14),(2018.68,20.687,.16),(2018.69,20.521,.14),(2018.69,20.624,.15),(2018.70,20.758,.16),(2018.71,20.276,.13),(2018.72,20.299,.13),(2018.73,20.557,.15),(2018.74,20.674,.15),(2018.75,20.525,.14),(2018.77,20.529,.14),
    (2019.08,20.41,.14),(2019.15,20.31,.14),(2019.16,20.698,.16),(2019.17,20.821,.17),(2019.19,20.627,.15),(2019.21,20.352,.14),(2019.22,20.513,.14),(2019.23,20.197,.13),(2019.25,20.592,.15),(2019.26,20.449,.14),(2019.27,20.647,.15),(2019.29,20.798,.17),(2019.30,20.545,.15),(2019.31,20.434,.14),(2019.33,20.616,.15),(2019.34,20.537,.15),(2019.35,20.671,.16),(2019.37,20.592,.15),(2019.38,20.481,.14),(2019.39,20.56,.15),(2019.41,20.64,.15),(2019.42,20.525,.14),(2019.43,20.758,.16),(2019.44,20.173,.13),(2019.45,20.449,.14),(2019.46,20.263,.13),(2019.47,20.608,.15),(2019.48,20.545,.15),(2019.49,20.434,.14),(2019.50,20.706,.16),(2019.50,20.505,.14),(2019.51,20.766,.16),(2019.52,20.394,.14),(2019.53,20.22,.13),(2019.54,20.576,.15),(2019.55,20.465,.14),(2019.56,20.64,.15),(2019.57,20.276,.13),(2019.58,20.529,.14),(2019.58,20.785,.17),(2019.59,20.434,.14),(2019.60,20.624,.15),(2019.61,20.292,.13),(2019.62,20.56,.15),(2019.63,20.679,.16),(2019.64,20.497,.14),(2019.65,20.616,.15),(2019.65,20.722,.16),(2019.66,20.252,.13),(2019.67,20.576,.15),(2019.68,20.449,.14),(2019.69,20.102,.12),(2019.70,20.22,.13),(2019.71,20.616,.15),(2019.72,20.386,.14),(2019.73,20.64,.15),(2019.74,20.814,.17),(2019.81,20.284,.14),(2019.83,20.56,.15),
    (2020.06,20.735,.17),(2020.08,20.584,.16),(2020.08,20.553,.15),(2020.12,20.378,.15),(2020.13,20.964,.19),(2020.15,20.125,.13),(2020.17,20.782,.17),(2020.17,20.869,.18),(2020.25,20.735,.16),(2020.29,20.834,.17),(2020.30,20.663,.16),(2020.31,20.56,.15),(2020.31,20.449,.14),(2020.32,20.627,.15),(2020.33,20.516,.15),(2020.34,20.703,.16),(2020.35,20.352,.14),(2020.36,20.252,.13),(2020.37,20.592,.15),(2020.38,20.513,.15),(2020.38,20.627,.15),(2020.39,20.449,.14),(2020.40,20.703,.16),(2020.41,20.545,.15),(2020.42,20.146,.13),(2020.43,20.655,.15),(2020.44,20.576,.15),(2020.45,20.489,.14),(2020.46,20.608,.15),(2020.46,20.798,.17),(2020.47,20.434,.14),(2020.48,20.679,.16),(2020.49,20.56,.15),(2020.50,20.276,.13),(2020.51,20.624,.15),(2020.52,20.513,.14),(2020.53,20.426,.14),(2020.54,20.766,.16),(2020.54,20.545,.15),(2020.55,20.655,.15),(2020.56,20.378,.14),(2020.57,20.867,.18),(2020.58,20.592,.15),(2020.59,20.449,.14),(2020.60,20.355,.14),(2020.61,20.521,.14),(2020.62,20.735,.16),(2020.62,20.481,.14),(2020.63,20.307,.13),(2020.64,20.56,.15),(2020.65,20.418,.14),(2020.66,20.481,.14),(2020.67,20.355,.14),(2020.68,20.292,.13),(2020.69,20.545,.15),(2020.69,20.386,.14),(2020.70,20.181,.13),(2020.71,20.473,.14),(2020.72,20.22,.13),(2020.73,20.371,.14),(2020.74,20.513,.14),(2020.75,20.228,.13),(2020.76,20.418,.14),(2020.77,20.204,.13),(2020.77,20.323,.13),(2020.78,20.529,.14),(2020.79,20.26,.13),(2020.80,20.434,.14),(2020.81,20.162,.13),(2020.82,20.252,.13),(2020.51,19.679,.09),(2020.84,19.698,.09),
    (2021.04,20.47,.14),(2021.05,20.225,.13),(2021.10,20.244,.13),(2021.12,20.434,.14),(2021.14,20.456,.14),(2021.15,20.342,.14),(2021.15,20.378,.14),(2021.22,20.469,.14),(2021.24,19.991,.11),(2021.25,20.231,.13),(2021.26,20.674,.15),(2021.27,20.304,.13),(2021.27,20.456,.14),(2021.28,20.621,.15),(2021.29,20.323,.13),(2021.30,20.418,.14),(2021.31,20.022,.11),(2021.32,20.521,.14),(2021.33,20.386,.14),(2021.34,20.30,.13),(2021.35,20.449,.14),(2021.35,20.26,.13),(2021.36,20.545,.15),(2021.37,20.355,.14),(2021.38,20.465,.14),(2021.39,20.307,.13),(2021.40,20.521,.14),(2021.41,20.41,.14),(2021.42,20.279,.13),(2021.42,20.481,.14),(2021.43,20.355,.14),(2021.44,20.576,.15),(2021.45,20.386,.14),(2021.46,20.268,.13),(2021.47,20.456,.14),(2021.48,20.323,.13),(2021.48,20.165,.12),(2021.50,20.513,.14),(2021.50,20.418,.14),(2021.51,20.307,.13),(2021.52,20.481,.14),(2021.53,20.268,.13),(2021.54,20.374,.14),(2021.55,20.548,.15),(2021.56,20.292,.13),(2021.57,20.449,.14),(2021.58,20.355,.14),(2021.58,20.505,.14),(2021.59,20.402,.14),(2021.60,20.30,.13),(2021.61,20.456,.14),(2021.62,20.212,.13),(2021.63,20.355,.14),(2021.64,19.962,.11),(2021.65,20.449,.14),(2021.65,20.56,.15),(2021.66,20.31,.13),(2021.67,20.418,.14),(2021.68,20.204,.13),(2021.69,20.465,.14),(2021.70,20.362,.14),(2021.71,20.292,.13),(2021.72,20.102,.12),(2021.73,20.449,.14),(2021.73,20.231,.13),(2021.74,20.568,.15),(2021.75,20.117,.12),(2021.76,20.26,.13),(2021.77,20.336,.14),(2021.78,20.394,.14),(2021.79,20.336,.14),(2021.84,20.616,.15),(2021.85,20.405,.14),(2021.86,20.447,.14),
    (2022.12,20.473,.14),(2022.13,20.339,.14),(2022.13,19.858,.10),(2022.14,20.252,.13),(2022.15,20.394,.14),(2022.15,20.426,.14),(2022.16,20.56,.15),(2022.17,20.347,.14),(2022.25,20.564,.15),(2022.26,20.553,.15),(2022.26,20.355,.14),(2022.27,20.449,.14),(2022.28,20.307,.13),(2022.29,20.513,.14),(2022.30,20.434,.14),(2022.31,20.26,.13),(2022.32,20.64,.15),(2022.33,20.782,.17),(2022.34,20.473,.14),(2022.35,20.355,.14),(2022.35,20.545,.15),(2022.36,20.181,.13),(2022.37,20.418,.14),(2022.38,20.30,.13),(2022.39,20.521,.14),(2022.40,20.449,.14),(2022.41,20.568,.15),(2022.42,20.371,.14),(2022.43,20.608,.15),(2022.43,20.489,.14),(2022.44,20.434,.14),(2022.45,20.513,.14),(2022.46,20.31,.13),(2022.47,20.465,.14),(2022.48,20.608,.15),(2022.49,20.386,.14),(2022.50,20.513,.14),(2022.50,20.441,.14),(2022.51,20.26,.13),(2022.52,20.545,.15),(2022.53,20.371,.14),(2022.54,20.481,.14),(2022.55,20.323,.13),(2022.56,20.449,.14),(2022.57,20.26,.13),(2022.58,20.513,.14),(2022.58,20.394,.14),(2022.59,20.252,.13),(2022.60,20.434,.14),(2022.61,20.342,.14),(2022.62,20.481,.14),(2022.63,20.394,.14),(2022.64,20.497,.14),(2022.65,20.292,.13),(2022.65,20.449,.14),(2022.66,20.268,.13),(2022.67,20.355,.14),(2022.68,20.149,.13),(2022.69,20.449,.14),(2022.70,20.31,.13),(2022.71,20.402,.14),(2022.72,20.505,.14),(2022.73,20.244,.13),(2022.73,20.449,.14),(2022.74,20.545,.15),(2022.75,20.652,.15),(2022.76,20.102,.12),(2022.77,20.39,.14),(2022.78,20.355,.14),(2022.79,20.331,.14),
    (2023.08,20.41,.14),(2023.10,20.236,.13),(2023.15,20.605,.15),(2023.21,20.394,.14),(2023.23,20.921,.19),(2023.25,20.434,.14),(2023.26,20.56,.15),(2023.27,20.60,.15),(2023.29,20.378,.14),(2023.30,20.465,.14),(2023.31,20.513,.14),(2023.33,20.434,.14),(2023.34,20.545,.15),(2023.35,20.331,.14),(2023.37,20.449,.14),(2023.38,20.386,.14),(2023.39,20.252,.13),(2023.40,19.88,.10),(2023.41,19.956,.11),(2023.42,20.062,.12),(2023.43,20.481,.14),(2023.44,20.292,.13),(2023.45,20.402,.14),(2023.46,20.521,.14),(2023.46,20.355,.14),(2023.47,20.456,.14),(2023.48,20.22,.13),(2023.49,20.56,.15),(2023.50,20.355,.14),(2023.51,20.441,.14),(2023.52,20.26,.13),(2023.53,20.481,.14),(2023.54,20.374,.14),(2023.54,20.616,.15),(2023.55,20.307,.13),(2023.56,20.449,.14),(2023.57,20.173,.13),(2023.58,20.386,.14),(2023.59,20.513,.14),(2023.60,20.292,.13),(2023.61,20.434,.14),(2023.62,20.342,.14),(2023.62,20.252,.13),(2023.63,20.481,.14),(2023.64,20.133,.12),(2023.65,20.355,.14),(2023.66,20.30,.13),(2023.67,20.449,.14),(2023.68,20.26,.13),(2023.69,20.386,.14),(2023.69,20.521,.14),(2023.70,20.292,.13),(2023.71,20.323,.13),(2023.72,19.864,.10),(2023.73,19.987,.11),(2023.74,20.371,.14),(2023.75,20.449,.14),(2023.76,20.26,.13),(2023.77,20.386,.14),(2023.77,20.30,.13),(2023.78,20.521,.14),(2023.79,20.347,.14),
]

obs_h = [
    (2018.23,19.669,.13),(2018.25,19.361,.11),(2018.30,19.753,.14),(2018.34,19.628,.13),(2018.38,19.576,.12),
    (2018.84,19.544,.12),(2018.85,19.554,.12),(2018.86,19.489,.11),(2018.87,19.63,.12),(2018.88,19.581,.12),(2018.88,19.60,.12),(2018.89,19.641,.12),(2018.91,19.618,.12),(2018.92,19.527,.11),(2018.94,19.669,.13),(2018.95,19.527,.11),(2018.97,19.643,.12),(2018.99,19.575,.12),(2019.00,19.548,.12),(2019.01,19.718,.14),(2019.03,19.497,.11),
    (2019.16,19.565,.12),(2019.18,19.608,.12),(2019.20,19.575,.12),(2019.22,19.591,.12),(2019.24,19.565,.12),(2019.25,19.694,.13),(2019.26,19.643,.12),(2019.28,19.608,.12),(2019.29,19.629,.12),(2019.31,19.626,.12),(2019.32,19.522,.11),(2019.34,19.565,.12),
    (2019.85,19.622,.13),(2019.88,19.191,.09),(2019.96,19.32,.10),(2019.96,19.168,.09),(2020.00,19.543,.12),(2020.02,19.591,.12),(2020.04,19.608,.12),(2020.04,19.634,.12),(2020.05,19.57,.12),(2020.06,19.527,.11),(2020.07,19.645,.12),(2020.08,19.543,.12),(2020.09,19.303,.10),(2020.10,19.737,.14),(2020.11,19.554,.12),(2020.12,19.239,.10),(2020.12,19.608,.12),(2020.13,19.57,.12),(2020.14,19.645,.12),(2020.15,19.462,.11),(2020.16,19.589,.12),(2020.17,19.511,.11),(2020.18,19.661,.13),(2020.19,19.396,.11),(2020.24,19.471,.11),(2020.26,19.484,.11),(2020.28,19.462,.11),(2020.30,19.452,.11),(2020.32,19.544,.12),(2020.33,19.60,.12),(2020.35,19.464,.11),(2020.37,19.486,.11),(2020.40,19.578,.12),
    (2020.80,19.414,.11),(2020.82,19.247,.10),(2020.83,19.419,.11),(2020.84,19.495,.11),(2020.84,19.237,.10),(2020.86,19.43,.11),(2020.87,19.452,.11),(2020.88,19.543,.12),(2020.90,19.403,.11),(2020.92,19.328,.10),(2020.94,19.331,.10),(2020.96,19.543,.12),(2020.97,19.425,.11),(2021.02,19.355,.10),(2021.03,19.296,.10),(2021.04,19.446,.11),(2021.05,19.508,.11),(2021.06,19.339,.10),(2021.07,19.396,.11),(2021.08,19.29,.10),(2021.09,19.484,.11),(2021.10,19.393,.11),(2021.11,19.28,.10),(2021.12,19.36,.10),(2021.12,19.557,.12),(2021.13,19.43,.11),(2021.14,19.274,.10),(2021.15,19.323,.10),(2021.16,18.952,.08),(2021.16,19.108,.09),(2021.17,19.403,.11),(2021.18,19.344,.10),(2021.19,19.328,.10),(2021.20,19.441,.11),(2021.21,19.368,.10),(2021.23,19.288,.10),(2021.25,19.011,.08),(2021.26,19.484,.11),(2021.27,19.306,.10),(2021.28,19.253,.10),(2021.28,19.349,.10),(2021.29,19.457,.11),(2021.30,19.403,.11),(2021.31,19.269,.10),(2021.32,19.376,.11),(2021.33,19.514,.11),(2021.34,19.435,.11),(2021.36,19.454,.11),(2021.36,19.29,.10),(2021.37,19.521,.11),(2021.38,19.406,.11),(2021.39,19.527,.12),(2021.40,19.156,.09),(2021.40,19.428,.11),
    (2021.85,19.28,.10),(2021.86,19.306,.10),(2021.87,19.271,.10),(2021.87,19.363,.10),(2021.88,19.296,.10),(2021.89,19.013,.08),(2021.90,19.065,.09),(2021.93,19.292,.10),(2022.06,19.101,.09),(2022.12,19.323,.10),(2022.13,19.511,.12),(2022.13,18.89,.08),(2022.14,19.308,.10),(2022.15,19.398,.11),(2022.16,19.339,.10),(2022.17,19.376,.11),(2022.18,19.446,.11),(2022.26,19.478,.11),(2022.27,19.419,.11),(2022.28,19.267,.10),(2022.29,19.285,.10),(2022.30,19.387,.11),(2022.32,19.317,.10),(2022.33,19.411,.11),(2022.34,19.548,.12),(2022.35,19.428,.11),(2022.36,19.371,.11),
    (2022.82,19.394,.11),(2022.88,19.473,.11),(2022.90,19.50,.12),(2022.92,19.476,.11),(2022.93,19.565,.12),(2022.95,19.398,.11),(2022.98,19.484,.11),(2023.00,19.511,.12),
    (2023.19,19.224,.10),(2023.24,19.46,.12),(2023.27,19.543,.13),(2023.29,19.615,.13),(2023.30,19.306,.11),(2023.31,19.726,.14),(2023.31,19.783,.14),(2023.32,19.589,.13),(2023.33,19.543,.12),(2023.34,19.486,.12),(2023.35,19.57,.12),(2023.38,19.57,.12),
    (2023.82,19.645,.13),
]

# per-object metadata shown in each panel's info box
labels = ["a", "b", "c", "d", "e", "f", "g", "h"]
ra_vals = ["117.13812555", "207.06218592195575", "151.0014047393939", "190.4760647555874",
           "250.9276498450722", "4.28100220289855", "252.45840725699685", "152.43610412499999"]
dec_vals = ["22.126013753125", "29.04905515498155", "54.27152996363636", "61.039135403724934",
            "39.11523234770872", "-5.756466163405797", "48.16156528097485", "0.5663254772321429"]
class_vals = ["QSO"] * 8
redshift_vals = ["0.5", "0.9", "1.5", "2.0", "2.1", "2.3", "2.5", "3.3"]
galaxy_pct = ["0.4", "0.6", "0.6", "0.3", "0.4", "0.6", "0.3", "0.9"]
quasar_pct = ["99.5", "99.2", "99.3", "99.6", "99.5", "99.2", "99.6", "99.1"]
star_pct = ["0.1"] * 8

y_ticks = [
    [18, 19, 20, 21],
    [18.8, 19.0, 19.2, 19.4, 19.6, 19.8],
    [18.8, 19.0, 19.2, 19.4, 19.6, 19.8, 20.0, 20.2],
    [20.0, 20.5, 21.0, 21.5, 22.0],
    [18.4, 18.6, 18.8, 19.0, 19.2, 19.4],
    [19.2, 19.4, 19.6, 19.8, 20.0, 20.2, 20.4],
    [19.6, 19.8, 20.0, 20.2, 20.4, 20.6, 20.8, 21.0, 21.2],
    [18.8, 19.0, 19.2, 19.4, 19.6, 19.8],
]
x_ticks = [2018, 2019, 2020, 2021, 2022, 2023, 2024]

# axis limits: (x from, x to), (faint end, bright end) -> magnitude axis inverted
x_limits = [(2018.422, 2024.061), (2017.957, 2023.851), (2017.947, 2024.098), (2017.958, 2023.753),
            (2017.947, 2024.098), (2018.175, 2024.094), (2017.947, 2024.075), (2017.947, 2024.098)]
y_limits = [(21.807, 17.164), (19.911, 18.755), (20.268, 18.794), (22.068, 19.653),
            (19.515, 18.199), (20.428, 19.155), (21.241, 19.448), (19.978, 18.760)]

observations = [obs_a, obs_b, obs_c, obs_d, obs_e, obs_f, obs_g, obs_h]

# ---------------------------------------------------------------- layout
W, H = 1220, 1675
BLUE = "#1f77b4"
FRAME = "#3a3a3a"
TXT = "#262626"
FONT = "DejaVu Sans"
TICK_SIZE = 12.5
INFO_SIZE = 12.6
LINE_STEP = 15.85          # baseline-to-baseline distance inside the info box

col_px = [(61, 609), (663.5, 1210)]
row_px = [(11, 388), (426.5, 804), (841.5, 1219), (1256.5, 1634)]
label_x_px = [343, 956]

# DejaVu Sans advance widths (em) for measuring the info-box and tick texts
ADV = {**{d: 0.636 for d in "0123456789"},
       ".": 0.318, ":": 0.337, " ": 0.318, "-": 0.838, "%": 0.950,
       "a": 0.613, "c": 0.550, "d": 0.635, "e": 0.615, "f": 0.352, "g": 0.635,
       "h": 0.634, "i": 0.278, "l": 0.278, "q": 0.635, "r": 0.411, "s": 0.521,
       "t": 0.392, "u": 0.634, "x": 0.592, "y": 0.592, "S": 0.635, "D": 0.770,
       "Q": 0.787, "O": 0.787, "Z": 0.685, "T": 0.611, "F": 0.575}


def text_em(s):
    return sum(ADV.get(ch, 0.6) for ch in s)


def px(x_px, y_px):
    return x_px / W, 1 - y_px / H


fig = go.Figure()
annotations = []
shapes = []

for i, rows in enumerate(observations):
    r, c = divmod(i, 2)
    suffix = "" if i == 0 else str(i + 1)
    x0, x1 = col_px[c]
    top, bottom = row_px[r]

    t = [row[0] for row in rows]
    mag = [row[1] for row in rows]
    err = [row[2] for row in rows]

    fig.add_trace(go.Scatter(
        x=t, y=mag, mode="markers",
        name=" " if i == 0 else labels[i],
        showlegend=(i == 0),
        xaxis="x" + suffix, yaxis="y" + suffix,
        marker=dict(symbol="circle", size=5.5, color="white",
                    line=dict(color=BLUE, width=1.2)),
        error_y=dict(type="data", array=err, visible=True,
                     color=BLUE, thickness=1.6, width=0),
        hovertemplate="%{x:.3f}: %{y:.3f}<extra></extra>",
    ))

    yt = y_ticks[i]
    if all(float(v).is_integer() for v in yt):
        ytext = [f"{int(v)}" for v in yt]
    else:
        ytext = [f"{v:.1f}" for v in yt]

    axis_common = dict(showline=True, linecolor=FRAME, linewidth=1.1, mirror=True,
                       showgrid=False, zeroline=False, ticks="outside", ticklen=4,
                       tickwidth=1, tickcolor=FRAME, automargin=False,
                       tickfont=dict(family=FONT, size=TICK_SIZE, color=TXT))
    fig.update_layout(**{
        "xaxis" + suffix: dict(domain=[x0 / W, x1 / W], anchor="y" + suffix,
                               range=list(x_limits[i]), tickmode="array",
                               tickvals=x_ticks, ticktext=[str(v) for v in x_ticks],
                               **axis_common),
        "yaxis" + suffix: dict(domain=[1 - bottom / H, 1 - top / H], anchor="x" + suffix,
                               range=list(y_limits[i]), tickmode="array",
                               tickvals=yt, ticktext=ytext, **axis_common),
    })

    # info box in the upper-left corner: framed rectangle + one text line per row
    lines = [("ra", "", ra_vals[i]), ("dec", "", dec_vals[i]),
             ("class", "SDSS", class_vals[i]), ("redshift", "SDSS", redshift_vals[i]),
             ("galaxy", "ZTF", galaxy_pct[i] + "%"), ("quasar", "ZTF", quasar_pct[i] + "%"),
             ("star", "ZTF", star_pct[i] + "%")]
    widest = max(text_em(k) + 0.7 * text_em(s) + text_em(": " + v) for k, s, v in lines)
    bx0, by0 = x0 + 5, top + 6
    bx1, by1 = bx0 + widest * INFO_SIZE + 11, by0 + 117.6
    (px0, py1), (px1, py0) = px(bx0, by0), px(bx1, by1)
    shapes.append(dict(type="rect", xref="paper", yref="paper",
                       x0=px0, x1=px1, y0=py0, y1=py1, layer="above",
                       fillcolor="rgba(255,255,255,0.8)",
                       line=dict(color="#9a9a9a", width=1.3)))
    for k, (key, sub, val) in enumerate(lines):
        head = f"{key}<sub>{sub}</sub>" if sub else key
        lx, ly = px(bx0 + 5.5, by0 + 3.2 + LINE_STEP * k)
        annotations.append(dict(
            text=f"{head}: {val}", xref="paper", yref="paper",
            x=lx, y=ly, xanchor="left", yanchor="top", align="left",
            showarrow=False, borderpad=0,
            font=dict(family=FONT, size=INFO_SIZE, color=TXT),
        ))

    # panel letter
    lx, ly = px(label_x_px[c], top + 17)
    annotations.append(dict(
        text=labels[i], xref="paper", yref="paper", x=lx, y=ly,
        xanchor="center", yanchor="middle", showarrow=False,
        font=dict(family=FONT, size=16, color="#111111"),
    ))

    if c == 0:
        # axis title sits left of the widest tick label
        tick_w = max(text_em(s) for s in ytext) * TICK_SIZE
        title_x = x0 - 4 - 3.5 - tick_w - 4 - 7
        lx, ly = px(title_x, (top + bottom) / 2)
        annotations.append(dict(
            text="magnitude", xref="paper", yref="paper", x=lx, y=ly, textangle=-90,
            xanchor="center", yanchor="middle", showarrow=False,
            font=dict(family=FONT, size=12.5, color=TXT),
        ))
    if r == 3:
        lx, ly = px((x0 + x1) / 2, 1665)
        annotations.append(dict(
            text="date", xref="paper", yref="paper", x=lx, y=ly,
            xanchor="center", yanchor="middle", showarrow=False,
            font=dict(family=FONT, size=12.5, color=TXT),
        ))

leg_x, leg_y = px(283, 13)
fig.update_layout(
    width=W, height=H,
    margin=dict(l=0, r=0, t=0, b=0, autoexpand=False),
    paper_bgcolor="white", plot_bgcolor="white",
    annotations=annotations, shapes=shapes,
    showlegend=True,
    legend=dict(x=leg_x, y=leg_y, xanchor="left", yanchor="top",
                bgcolor="rgba(0,0,0,0)", borderwidth=0,
                font=dict(family=FONT, size=14, color=TXT),
                itemclick=False, itemdoubleclick=False),
)

fig.write_html("out.html")
